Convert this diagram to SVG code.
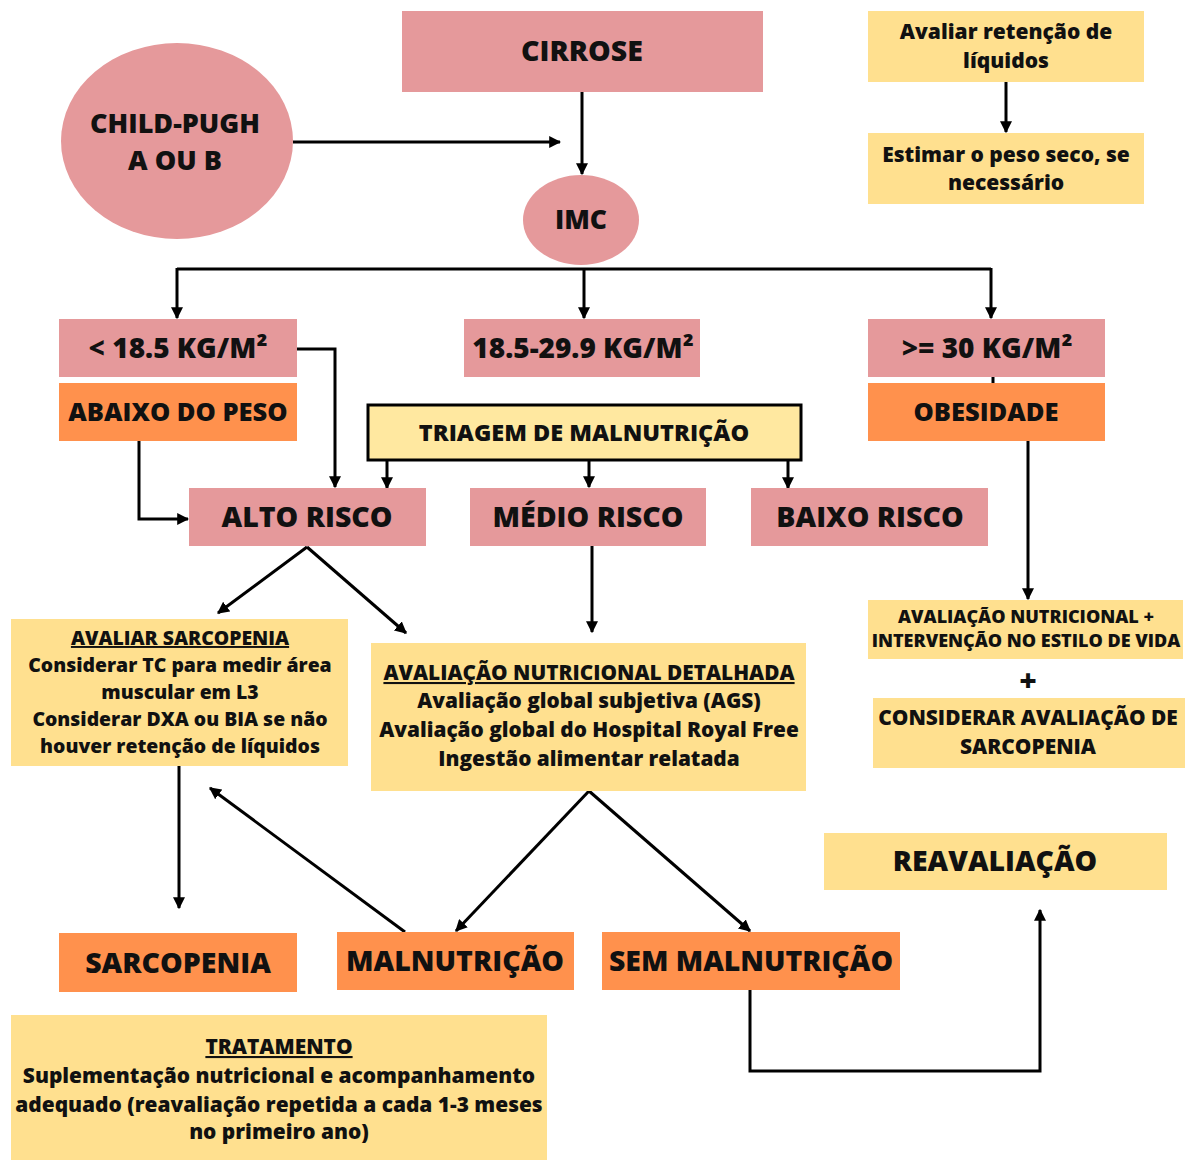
<svg xmlns="http://www.w3.org/2000/svg" width="1187" height="1160" viewBox="0 0 1187 1160">
<defs>
<marker id="ah" viewBox="0 0 10 10" refX="9" refY="5" markerWidth="4" markerHeight="4" orient="auto" markerUnits="strokeWidth">
<path d="M0,0 L10,5 L0,10 z" fill="#000"/>
</marker>
<style>
text{font-family:"Open Sans","Noto Sans","Liberation Sans",sans-serif;font-weight:800;fill:#111;text-anchor:middle}
.pink{fill:#e5999b}
.orange{fill:#ff914d}
.yellow{fill:#ffe08f}
.tri{fill:#ffe8a0;stroke:#000;stroke-width:3}
.ln{fill:none;stroke:#000;stroke-width:3}
.ar{fill:none;stroke:#000;stroke-width:3;marker-end:url(#ah)}
.u{text-decoration:underline}
</style>
</defs>
<rect width="1187" height="1160" fill="#fff"/>

<g id="connectors">
<path class="ar" d="M293,142 H560"/>
<path class="ar" d="M582,92 V174"/>
<path class="ln" d="M177,269 H991"/>
<path class="ar" d="M177,268 V318"/>
<path class="ar" d="M584,268 V318"/>
<path class="ar" d="M991,268 V318"/>
<path class="ar" d="M1006,82 V132"/>
<path class="ar" d="M297,349 H335 V487"/>
<path class="ar" d="M139,441 V519 H188"/>
<path class="ar" d="M387,461 V488"/>
<path class="ar" d="M589,461 V487"/>
<path class="ar" d="M788,461 V488"/>
<path class="ln" d="M993,377 V383"/>
<path class="ar" d="M1028,441 V599"/>
<path class="ar" d="M307,547 L218,613"/>
<path class="ar" d="M307,547 L406,633"/>
<path class="ar" d="M592,546 V632"/>
<path class="ar" d="M179,766 V908"/>
<path class="ar" d="M405,932 L210,788"/>
<path class="ar" d="M589,791 L456,931"/>
<path class="ar" d="M589,791 L750,931"/>
<path class="ar" d="M750,990 V1071 H1040 V910"/>
</g>

<g id="cirrose"><rect class="pink" x="402" y="11" width="361" height="81"/><text x="582" y="61" font-size="28.5">CIRROSE</text></g>
<g id="child-pugh"><ellipse class="pink" cx="177" cy="141" rx="116" ry="98"/><text x="175" y="133" font-size="27">CHILD-PUGH</text><text x="175" y="170" font-size="27">A OU B</text></g>
<g id="imc"><ellipse class="pink" cx="581" cy="220" rx="58" ry="45"/><text x="581" y="229" font-size="26.5">IMC</text></g>
<g id="avaliar-retencao"><rect class="yellow" x="868" y="11" width="276" height="71"/><text x="1006" y="39" font-size="21">Avaliar retenção de</text><text x="1006" y="68" font-size="21">líquidos</text></g>
<g id="estimar-peso"><rect class="yellow" x="868" y="133" width="276" height="71"/><text x="1006" y="162" font-size="21">Estimar o peso seco, se</text><text x="1006" y="190" font-size="21">necessário</text></g>

<g id="imc-baixo"><rect class="pink" x="59" y="319" width="238" height="58"/><text x="178" y="358" font-size="28">&lt; 18.5 KG/M²</text></g>
<g id="imc-normal"><rect class="pink" x="464" y="319" width="236" height="58"/><text x="583" y="358" font-size="28">18.5-29.9 KG/M²</text></g>
<g id="imc-alto"><rect class="pink" x="868" y="319" width="237" height="58"/><text x="987" y="358" font-size="28">&gt;= 30 KG/M²</text></g>
<g id="abaixo-peso"><rect class="orange" x="59" y="383" width="238" height="58"/><text x="178" y="421" font-size="25.5">ABAIXO DO PESO</text></g>
<g id="obesidade"><rect class="orange" x="868" y="383" width="237" height="58"/><text x="986" y="421" font-size="25.5">OBESIDADE</text></g>
<g id="triagem"><rect class="tri" x="368" y="405" width="433" height="55"/><text x="584" y="441" font-size="23.5">TRIAGEM DE MALNUTRIÇÃO</text></g>

<g id="alto-risco"><rect class="pink" x="189" y="488" width="237" height="58"/><text x="307" y="527" font-size="28.5">ALTO RISCO</text></g>
<g id="medio-risco"><rect class="pink" x="470" y="488" width="236" height="58"/><text x="588" y="527" font-size="28.5">MÉDIO RISCO</text></g>
<g id="baixo-risco"><rect class="pink" x="751" y="488" width="237" height="58"/><text x="870" y="527" font-size="28.5">BAIXO RISCO</text></g>

<g id="avaliar-sarcopenia"><rect class="yellow" x="11" y="619" width="337" height="147"/>
<text x="180" y="645" font-size="19.4" class="u">AVALIAR SARCOPENIA</text>
<text x="180" y="672" font-size="19.4">Considerar TC para medir área</text>
<text x="180" y="699" font-size="19.4">muscular em L3</text>
<text x="180" y="726" font-size="19.4">Considerar DXA ou BIA se não</text>
<text x="180" y="753" font-size="19.4">houver retenção de líquidos</text></g>

<g id="avaliacao-detalhada"><rect class="yellow" x="371" y="643" width="435" height="148"/>
<text x="589" y="680" font-size="20.8" class="u">AVALIAÇÃO NUTRICIONAL DETALHADA</text>
<text x="589" y="708" font-size="20.8">Avaliação global subjetiva (AGS)</text>
<text x="589" y="737" font-size="20.8">Avaliação global do Hospital Royal Free</text>
<text x="589" y="766" font-size="20.8">Ingestão alimentar relatada</text></g>

<g id="avaliacao-estilo"><rect class="yellow" x="868" y="600" width="315" height="59"/>
<text x="1026" y="623" font-size="18">AVALIAÇÃO NUTRICIONAL +</text>
<text x="1026" y="647" font-size="18">INTERVENÇÃO NO ESTILO DE VIDA</text></g>
<g id="plus"><text x="1028" y="691" font-size="30">+</text></g>
<g id="considerar-sarcopenia"><rect class="yellow" x="873" y="698" width="312" height="70"/>
<text x="1028" y="725" font-size="20.9">CONSIDERAR AVALIAÇÃO DE</text>
<text x="1028" y="754" font-size="20.9">SARCOPENIA</text></g>

<g id="reavaliacao"><rect class="yellow" x="824" y="833" width="343" height="57"/><text x="995" y="871" font-size="28.4">REAVALIAÇÃO</text></g>
<g id="sarcopenia"><rect class="orange" x="59" y="933" width="238" height="59"/><text x="178" y="973" font-size="28.5">SARCOPENIA</text></g>
<g id="malnutricao"><rect class="orange" x="337" y="932" width="237" height="58"/><text x="455" y="971" font-size="28.5">MALNUTRIÇÃO</text></g>
<g id="sem-malnutricao"><rect class="orange" x="602" y="932" width="298" height="58"/><text x="751" y="971" font-size="28.4">SEM MALNUTRIÇÃO</text></g>

<g id="tratamento"><rect class="yellow" x="11" y="1015" width="536" height="145"/>
<text x="279" y="1054" font-size="20.9" class="u">TRATAMENTO </text>
<text x="279" y="1083" font-size="20.9">Suplementação nutricional e acompanhamento</text>
<text x="279" y="1112" font-size="20.9">adequado (reavaliação repetida a cada 1-3 meses</text>
<text x="279" y="1139" font-size="20.9">no primeiro ano)</text></g>
</svg>
